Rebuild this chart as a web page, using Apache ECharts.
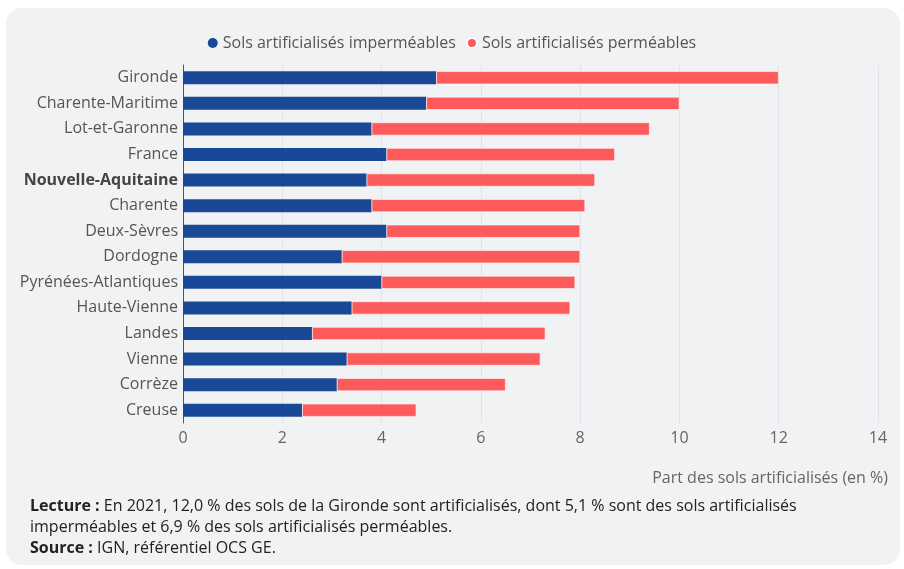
<!DOCTYPE html>
<html>
<head>
<meta charset="utf-8">
<script src="https://cdn.jsdelivr.net/npm/echarts@6/dist/echarts.min.js"></script>
<style>
html,body{margin:0;padding:0;background:#fff;}
#card{position:absolute;left:6px;top:8px;width:894px;height:557px;background:#f1f2f4;border-radius:16px;}
#chart{position:absolute;left:0;top:0;width:904px;height:569px;}
</style>
</head>
<body>
<div id="card"></div>
<div id="chart"></div>
<script>
const categories = ["Gironde","Charente-Maritime","Lot-et-Garonne","France","Nouvelle-Aquitaine","Charente","Deux-Sèvres","Dordogne","Pyrénées-Atlantiques","Haute-Vienne","Landes","Vienne","Corrèze","Creuse"];
const impermeables = [5.1,4.9,3.8,4.1,3.7,3.8,4.1,3.2,4.0,3.4,2.6,3.3,3.1,2.4];
const permeables = [6.9,5.1,5.6,4.6,4.6,4.3,3.9,4.8,3.9,4.4,4.7,3.9,3.4,2.3];
const xTicks = [0,2,4,6,8,10,12,14];
const seriesNames = ["Sols artificialisés imperméables","Sols artificialisés perméables"];
const highlight = "Nouvelle-Aquitaine";

const chart = echarts.init(document.getElementById('chart'));
const font = '"Open Sans", sans-serif';
const fs = 16;
chart.setOption({
  backgroundColor: 'transparent',
  textStyle: {fontFamily: font},
  animation: false,
  legend: {
    top: 30, left: 'center',
    icon: 'circle', itemWidth: 10, itemHeight: 10, itemGap: 10,
    textStyle: {fontSize: fs, color: '#555', fontFamily: font},
    data: seriesNames
  },
  grid: {left: 183, right: 26, top: 65, height: 358, containLabel: false},
  xAxis: {
    type: 'value', min: 0, max: 14, interval: 2,
    axisLine: {show: false}, axisTick: {show: false},
    splitLine: {lineStyle: {color: '#e2e3e6', width: 1}},
    axisLabel: {fontSize: fs, color: '#666', margin: 7, fontFamily: font,
      formatter: v => xTicks.includes(v) ? String(v) : ''}
  },
  yAxis: {
    type: 'category', data: categories, inverse: true,
    axisLine: {show: true, lineStyle: {color: '#555', width: 1}},
    axisTick: {show: false},
    axisLabel: {fontSize: fs, color: '#555', margin: 5, fontFamily: font,
      formatter: v => v === highlight ? '{b|' + v + '}' : v,
      rich: {b: {fontWeight: 'bold', fontSize: fs, color: '#444', fontFamily: font}}}
  },
  series: [
    {name: seriesNames[0], type: 'bar', stack: 'a', data: impermeables, barWidth: 13,
      itemStyle: {color: '#184896'}},
    {name: seriesNames[1], type: 'bar', stack: 'a', data: permeables, barWidth: 13,
      itemStyle: {color: '#fd5b5b', borderColor: '#ffffff', borderWidth: 0.6}}
  ],
  graphic: [
    {type: 'text', right: 16, top: 470, style: {text: 'Part des sols artificialisés (en %)', fontSize: fs, fill: '#666', fontFamily: font}},
    {type: 'text', left: 30, top: 496, style: {
      text: '{b|Lecture :} En 2021, 12,0 % des sols de la Gironde sont artificialisés, dont 5,1 % sont des sols artificialisés\nimperméables et 6,9 % des sols artificialisés perméables.\n{b|Source :} IGN, référentiel OCS GE.',
      fontSize: fs, fill: '#222', lineHeight: 21, fontFamily: font,
      rich: {b: {fontWeight: 'bold', fontSize: fs, fill: '#222', fontFamily: font, lineHeight: 21}}
    }}
  ]
});
</script>
</body>
</html>
